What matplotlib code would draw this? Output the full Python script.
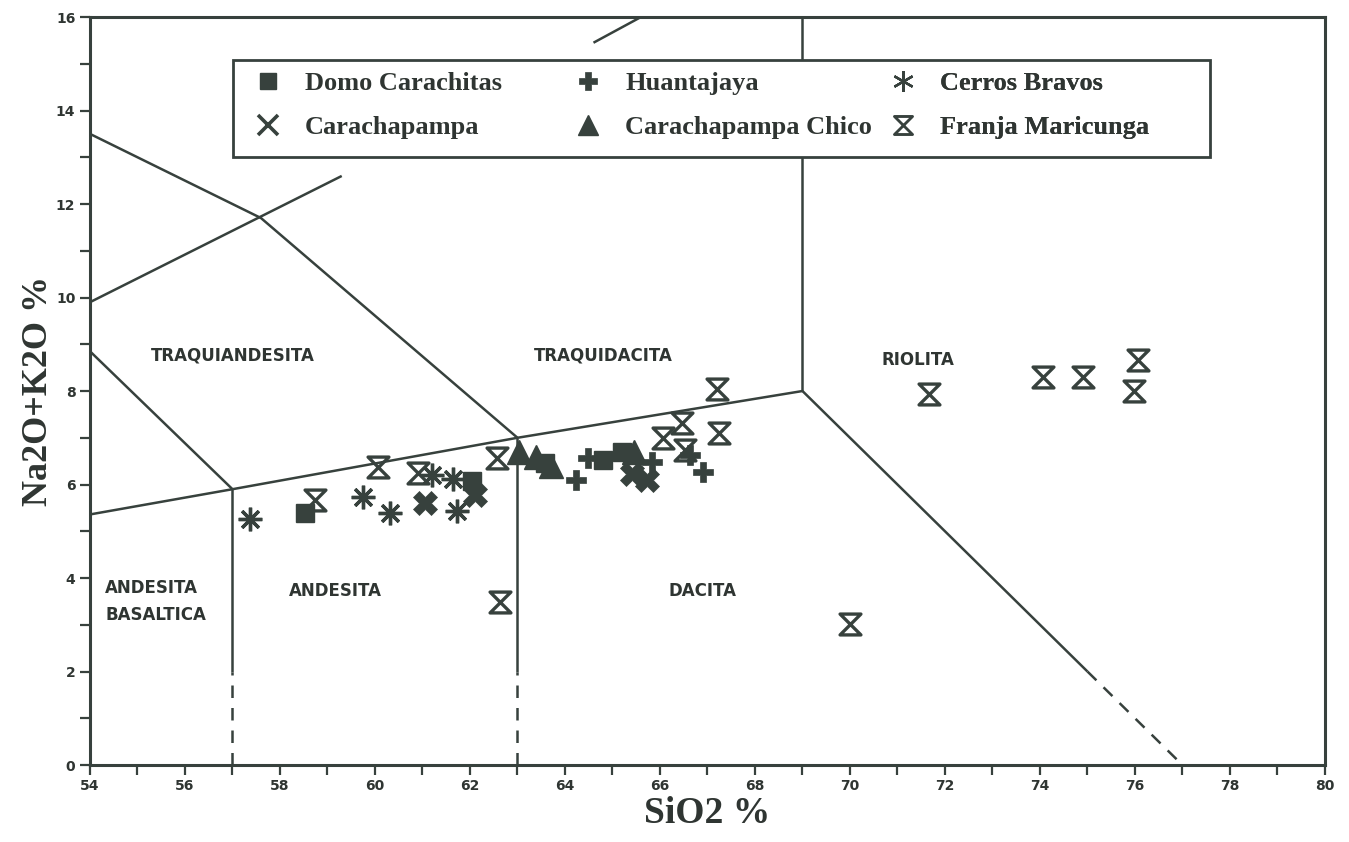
import matplotlib
matplotlib.use("Agg")
import matplotlib.pyplot as plt
from matplotlib.path import Path
from matplotlib.lines import Line2D
from matplotlib.patches import Rectangle
from matplotlib.font_manager import FontProperties

# ---------------- data ----------------
domo_x = [58.53, 62.04, 63.58, 64.80, 65.20]
domo_y = [5.39, 6.07, 6.46, 6.52, 6.70]

carachapampa_x = [61.05, 62.10, 65.41, 65.73]
carachapampa_y = [5.60, 5.78, 6.22, 6.10]

huantajaya_x = [64.23, 64.48, 65.83, 66.63, 66.91]
huantajaya_y = [6.10, 6.57, 6.48, 6.63, 6.27]

chico_x = [63.03, 63.39, 63.71, 65.45]
chico_y = [6.70, 6.59, 6.40, 6.70]

cerros_x = [57.37, 59.75, 60.32, 61.20, 61.64, 61.73]
cerros_y = [5.26, 5.73, 5.39, 6.20, 6.12, 5.43]

franja_x = [58.74, 60.06, 60.91, 62.57, 62.63, 67.20, 66.46, 66.06, 66.53, 67.24,
            70.00, 71.66, 74.06, 74.91, 76.06, 75.98]
franja_y = [5.67, 6.37, 6.25, 6.57, 3.49, 8.04, 7.32, 6.99, 6.74, 7.10,
            3.02, 7.94, 8.30, 8.30, 8.66, 8.00]

# TAS boundaries (solid)
bnd_solid = [
    [(54, 5.36), (57, 5.9), (63, 7.0), (69, 8.0)],
    [(57, 2.0), (57, 5.9)],
    [(63, 2.0), (63, 7.0)],
    [(69, 8.0), (69, 16.0)],
    [(69, 8.0), (75, 2.0)],
    [(63, 7.0), (57.6, 11.7), (54, 13.5)],
    [(54, 9.9), (59.3, 12.6)],
    [(54, 8.85), (57, 5.9)],
    [(64.6, 15.45), (65.6, 16.0)],
]
# TAS boundaries (dashed)
bnd_dashed = [
    [(57, 0.0), (57, 2.0)],
    [(63, 0.0), (63, 2.0)],
    [(75, 2.0), (77, 0.0)],
]

region_names = ["TRAQUIANDESITA", "TRAQUIDACITA", "RIOLITA", "ANDESITA", "DACITA",
                "ANDESITA\nBASALTICA"]
region_x = [57.0, 64.8, 71.43, 59.16, 66.9, 54.32]
region_y = [8.77, 8.77, 8.66, 3.72, 3.72, 3.50]
region_ha = ["center", "center", "center", "center", "center", "left"]

x_ticks = list(range(54, 81, 2))
y_ticks = list(range(0, 17, 2))

# ---------------- style ----------------
C = "#37413d"
TC = "#2f3532"
hourglass = Path([(-1, 1), (1, 1), (-1, -1), (1, -1), (-1, 1)],
                 [Path.MOVETO, Path.LINETO, Path.LINETO, Path.LINETO, Path.CLOSEPOLY])
asterisk = (8, 2, 0)

fig = plt.figure(figsize=(13.49, 8.42), dpi=100)
ax = fig.add_axes([0.0667, 0.0914, 0.9155, 0.8884])
ax.set_xlim(54, 80)
ax.set_ylim(0, 16)

for seg in bnd_solid:
    xs, ys = zip(*seg)
    ax.plot(xs, ys, color=C, lw=1.8, solid_capstyle="butt", zorder=2)
for seg in bnd_dashed:
    xs, ys = zip(*seg)
    ax.plot(xs, ys, color=C, lw=1.8, dashes=(5, 4), zorder=2)

for name, x, y, ha in zip(region_names, region_x, region_y, region_ha):
    ax.text(x, y, name, ha=ha, va="center", fontsize=12, fontweight="bold",
            family="DejaVu Sans", color=TC, linespacing=1.6)

styles = {
    "Domo Carachitas": dict(marker="s", ms=13, mfc=C, mec=C, mew=1),
    "Carachapampa": dict(marker="X", ms=17, mfc=C, mec=C, mew=0.5),
    "Huantajaya": dict(marker="P", ms=15, mfc=C, mec=C, mew=0.5),
    "Carachapampa Chico": dict(marker="^", ms=17, mfc=C, mec=C, mew=1),
    "Cerros Bravos": dict(marker=asterisk, ms=17, mfc=C, mec=C, mew=2.4),
    "Franja Maricunga": dict(marker=hourglass, ms=15, mfc="none", mec=C, mew=2.4),
}
legend_styles = {
    "Domo Carachitas": dict(marker="s", ms=12, mfc=C, mec=C, mew=1),
    "Carachapampa": dict(marker="x", ms=14, mfc=C, mec=C, mew=2.6),
    "Huantajaya": dict(marker="P", ms=13, mfc=C, mec=C, mew=0.5),
    "Carachapampa Chico": dict(marker="^", ms=14, mfc=C, mec=C, mew=1),
    "Cerros Bravos": dict(marker=(6, 2, 0), ms=15, mfc=C, mec=C, mew=1.6),
    "Franja Maricunga": dict(marker=hourglass, ms=13, mfc="none", mec=C, mew=1.8),
}
series = {
    "Domo Carachitas": (domo_x, domo_y),
    "Carachapampa": (carachapampa_x, carachapampa_y),
    "Huantajaya": (huantajaya_x, huantajaya_y),
    "Carachapampa Chico": (chico_x, chico_y),
    "Cerros Bravos": (cerros_x, cerros_y),
    "Franja Maricunga": (franja_x, franja_y),
}
for name, (xs, ys) in series.items():
    ax.plot(xs, ys, ls="none", zorder=3, **styles[name])

# axes styling
for sp in ax.spines.values():
    sp.set_linewidth(2.2)
    sp.set_color(C)
ax.set_xticks(x_ticks)
ax.set_xticks(range(54, 81), minor=True)
ax.set_yticks(y_ticks)
ax.set_yticks(range(0, 17), minor=True)
ax.tick_params(which="both", direction="out", length=7, width=1.6, color=C)
ax.tick_params(axis="x", pad=3)
tick_font = dict(family=["Liberation Sans Narrow", "DejaVu Sans"], weight="bold", size=10)
for lab in ax.get_xticklabels() + ax.get_yticklabels():
    lab.set_fontproperties(FontProperties(**tick_font))
    lab.set_color(TC)

ax.set_xlabel("SiO2 %", fontsize=27, family="Liberation Serif", fontweight="bold",
              color=TC, labelpad=2)
ax.set_ylabel("Na2O+K2O %", fontsize=26, family="Liberation Serif", fontweight="bold",
              color=TC, labelpad=1)

# legend: three columns inside a single frame
def fx(px):
    return (px - 90) / 1235.0
def fy(py):
    return (765 - py) / 748.0

frame = Rectangle((fx(233), fy(157)), fx(1210) - fx(233), fy(60) - fy(157),
                  transform=ax.transAxes, facecolor="white", edgecolor=C, lw=2.0,
                  zorder=5)
ax.add_patch(frame)

columns = [
    (["Domo Carachitas", "Carachapampa"], 247),
    (["Huantajaya", "Carachapampa Chico"], 567),
    (["Cerros Bravos", "Franja Maricunga"], 882),
]
leg_font = dict(family="Liberation Serif", weight="bold", size=19)
for names, px in columns:
    handles = [Line2D([], [], ls="none", **legend_styles[n]) for n in names]
    leg = ax.legend(handles, names, loc="upper left",
                    bbox_to_anchor=(fx(px), fy(66)), bbox_transform=ax.transAxes,
                    frameon=False, handlelength=1.2, handletextpad=0.8,
                    labelspacing=0.78, borderpad=0.2, borderaxespad=0,
                    prop=FontProperties(**leg_font))
    for t in leg.get_texts():
        t.set_color(TC)
    leg.set_zorder(6)
    ax.add_artist(leg)

fig.savefig("out.png", dpi=100, facecolor="white")
